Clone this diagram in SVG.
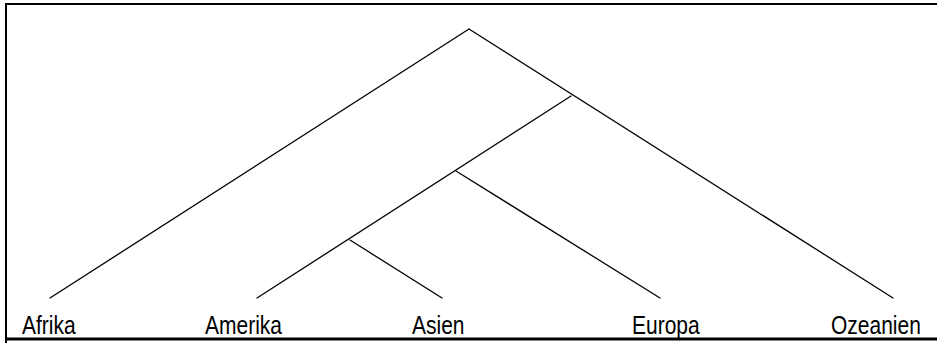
<svg xmlns="http://www.w3.org/2000/svg" width="937" height="343" viewBox="0 0 937 343">
  <style>
    .frame { fill: none; stroke: #000; stroke-width: 2; }
    .edge { stroke: #000; stroke-width: 1.3; fill: none; stroke-linecap: round; }
    .label { font-family: "Liberation Sans", Arial, sans-serif; font-size: 25px; fill: #000; }
  </style>
  <rect width="937" height="343" fill="#fff"/>
  <!-- outer frame -->
  <g id="frame">
    <path class="frame" d="M6,343 V4 H937"/>
    <path d="M6,339 H937" stroke="#000" stroke-width="3"/>
  </g>
  <!-- tree branches -->
  <g id="connectors">
    <line class="edge" x1="469" y1="29" x2="50" y2="298"/>
    <line class="edge" x1="469" y1="29" x2="893" y2="298"/>
    <line class="edge" x1="571" y1="96" x2="257" y2="298"/>
    <line class="edge" x1="456" y1="171" x2="660" y2="298"/>
    <line class="edge" x1="350" y1="240" x2="442" y2="298"/>
  </g>
  <!-- leaf labels, condensed -->
  <g id="afrika"><text class="label" transform="translate(22,334) scale(0.84,1)">Afrika</text></g>
  <g id="amerika"><text class="label" transform="translate(205,334) scale(0.84,1)">Amerika</text></g>
  <g id="asien"><text class="label" transform="translate(412,334) scale(0.84,1)">Asien</text></g>
  <g id="europa"><text class="label" transform="translate(632,334) scale(0.84,1)">Europa</text></g>
  <g id="ozeanien"><text class="label" transform="translate(831,334) scale(0.84,1)">Ozeanien</text></g>
</svg>
